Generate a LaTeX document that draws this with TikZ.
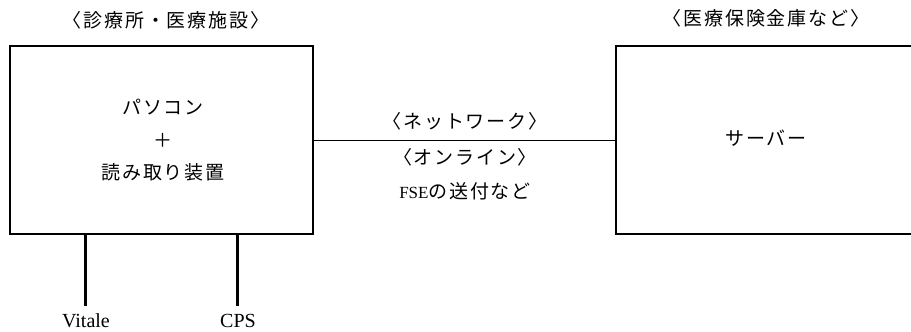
\documentclass[tikz,border=0pt]{standalone}
\usepackage{fontspec}
\setmainfont{Liberation Serif}
\newfontfamily\jp{Noto Sans CJK JP}
\newskip\jpgap \jpgap=1.8pt
% spread the kana and kanji a little apart
\def\spacedjp#1{\spacedjploop#1\relax}
\def\spacedjploop#1{\ifx\relax#1\unskip\else#1\hskip\jpgap\expandafter\spacedjploop\fi}
\usetikzlibrary{positioning}

\begin{document}
\begin{tikzpicture}[x=1pt, y=-1pt,
  box/.style={draw, line width=1.3pt, minimum width=303pt, minimum height=188pt, inner sep=0pt},
  jtext/.style={font=\jp\fontsize{19}{19}\selectfont, inner sep=0pt},
  leg/.style={line width=3pt},
  card/.style={font=\fontsize{20}{20}\selectfont, anchor=base, inner sep=0pt}]

\useasboundingbox (0,0) rectangle (911,332);
\clip (0,0) rectangle (911,332);

% the two sites
\node[box] (pc) at (161.5,140) {};
\node[box] (server) at (767.5,140) {};

\node[jtext] (clinic) at (166,20) {\spacedjp{〈診療所・医療施設〉}};
\node[jtext] (fund) at (766,18) {\spacedjp{〈医療保険金庫など〉}};

\node[jtext] (pcname) at (163,107) {\spacedjp{パソコン}};
\node[jtext] (plus) at (163,140) {＋};
\node[jtext] (reader) at (163,172) {\spacedjp{読み取り装置}};

\node[jtext] (servername) at (766,138) {\spacedjp{サーバー}};

% network
\draw[line width=1pt] (pc.east) -- (server.west);
\node[jtext] (net) at (465,121) {\spacedjp{〈ネットワーク〉}};
\node[jtext] (online) at (465,157) {\spacedjp{〈オンライン〉}};
\node[font=\fontsize{17}{17}\selectfont, inner sep=0pt] (send) at (465,191) {FSE{\jp\fontsize{19}{19}\selectfont\spacedjp{の送付など}}};

% cards
\node[card] (vitale) at (86,327) {Vitale};
\node[card] (cps) at (238,327) {CPS};
\draw[leg] (pc.south -| 85,0) -- (85,306);
\draw[leg] (pc.south -| 237,0) -- (237,306);

\end{tikzpicture}
\end{document}
